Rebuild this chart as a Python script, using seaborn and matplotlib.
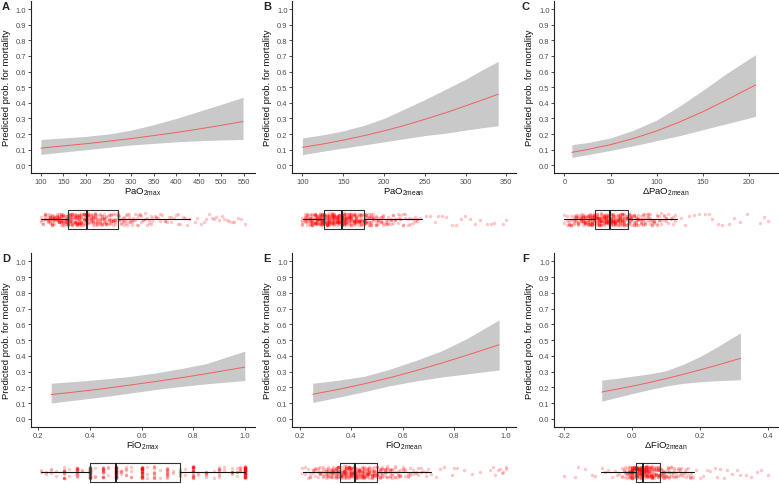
import numpy as np
import matplotlib
matplotlib.use("Agg")
import matplotlib.pyplot as plt
import seaborn as sns

# fitted curves: x, predicted prob., lower / upper 95% band
pao2max_x = [100, 150, 200, 250, 300, 350, 400, 450, 500, 548]
pao2max_fit = [0.110, 0.124, 0.138, 0.154, 0.171, 0.190, 0.210, 0.232, 0.256, 0.280]
pao2max_lo = [0.070, 0.085, 0.100, 0.115, 0.130, 0.140, 0.150, 0.157, 0.162, 0.165]
pao2max_hi = [0.165, 0.175, 0.185, 0.200, 0.225, 0.260, 0.300, 0.345, 0.390, 0.435]

pao2mean_x = [100, 125, 150, 175, 200, 225, 250, 275, 300, 320, 340]
pao2mean_fit = [0.115, 0.136, 0.161, 0.189, 0.220, 0.255, 0.294, 0.335, 0.380, 0.417, 0.455]
pao2mean_lo = [0.068, 0.090, 0.110, 0.130, 0.150, 0.170, 0.190, 0.205, 0.225, 0.240, 0.253]
pao2mean_hi = [0.175, 0.195, 0.220, 0.255, 0.300, 0.360, 0.420, 0.485, 0.550, 0.610, 0.665]

dpao2_x = [8, 25, 50, 75, 100, 125, 150, 175, 207]
dpao2_fit = [0.083, 0.101, 0.132, 0.172, 0.220, 0.278, 0.343, 0.416, 0.514]
dpao2_lo = [0.051, 0.068, 0.095, 0.125, 0.158, 0.190, 0.228, 0.265, 0.313]
dpao2_hi = [0.132, 0.145, 0.175, 0.225, 0.290, 0.380, 0.480, 0.585, 0.708]

fio2max_x = [0.25, 0.35, 0.45, 0.55, 0.65, 0.75, 0.85, 1.0]
fio2max_fit = [0.154, 0.172, 0.191, 0.213, 0.236, 0.260, 0.286, 0.328]
fio2max_lo = [0.101, 0.120, 0.140, 0.162, 0.185, 0.205, 0.222, 0.243]
fio2max_hi = [0.226, 0.238, 0.252, 0.268, 0.290, 0.318, 0.350, 0.430]

fio2mean_x = [0.25, 0.35, 0.45, 0.55, 0.65, 0.75, 0.85, 0.975]
fio2mean_fit = [0.156, 0.187, 0.222, 0.261, 0.305, 0.353, 0.404, 0.470]
fio2mean_lo = [0.104, 0.137, 0.172, 0.210, 0.240, 0.265, 0.285, 0.310]
fio2mean_hi = [0.226, 0.245, 0.270, 0.315, 0.370, 0.430, 0.510, 0.628]

dfio2_x = [-0.09, 0.0, 0.05, 0.1, 0.15, 0.2, 0.25, 0.32]
dfio2_fit = [0.170, 0.207, 0.230, 0.255, 0.282, 0.310, 0.340, 0.384]
dfio2_lo = [0.112, 0.160, 0.185, 0.208, 0.225, 0.235, 0.242, 0.248]
dfio2_hi = [0.245, 0.270, 0.285, 0.305, 0.345, 0.395, 0.455, 0.546]

# observed values (value, number of patients) plus single outlying points
pao2max_vals = [100, 105, 110, 115, 120, 125, 130, 135, 140, 145, 150, 155, 160, 165, 170, 175, 180, 185,
                190, 195, 200, 205, 210, 215, 220, 225, 230, 235, 240, 245, 250, 255, 260, 265, 270,
                274, 277, 281, 284, 288, 291, 295, 298, 302, 305, 309, 312, 316, 319, 323, 327, 331, 335,
                339, 343, 347, 352, 356, 360, 365, 369, 374, 379, 384, 389, 394, 399, 404, 409, 414, 419,
                424, 429]
pao2max_n = [3, 3, 6, 6, 9, 9, 10, 10, 11, 11, 12, 12, 12, 12, 13, 13, 13, 13,
             12, 12, 11, 11, 9, 9, 8, 8, 8, 7, 7, 7, 7, 6, 6, 6, 5,
             3, 3, 3, 3, 3, 2, 3, 2, 3, 2, 2, 2, 2, 2, 2, 2, 2, 2,
             2, 2, 2, 1, 2, 1, 2, 1, 2, 1, 1, 2, 1, 1, 2, 1, 1, 1,
             1, 1]
pao2max_tail = [441, 447, 456, 461, 467, 472, 479, 484, 489, 495, 501, 506, 512, 518, 523, 529, 536, 544, 552]

pao2mean_vals = [100, 103, 106, 109, 112, 115, 118, 121, 124, 127, 130, 133, 136, 139, 142, 145, 148, 151,
                 154, 157, 160, 163, 166, 169, 172, 175, 178, 181, 184, 187, 190, 193, 196, 199, 202, 205,
                 208, 211, 214, 217, 220, 223, 226, 229, 232, 235, 238, 241, 244]
pao2mean_n = [5, 7, 9, 11, 13, 14, 16, 17, 18, 18, 18, 18, 18, 18, 18, 17, 17, 17,
              16, 15, 14, 14, 13, 12, 11, 11, 10, 8, 7, 6, 6, 5, 5, 5, 4, 4,
              4, 3, 3, 3, 3, 3, 2, 2, 2, 2, 2, 2, 1]
pao2mean_tail = [251, 256, 262, 266, 271, 276, 283, 288, 294, 299, 306, 312, 318, 326, 331, 335, 346, 349]

dpao2_vals = [0, 2.5, 5, 7.5, 10, 12.5, 15, 17.5, 20, 22.5, 25, 27.5, 30, 32.5, 35, 37.5, 40, 42.5, 45,
              47.5, 50, 52.5, 55, 57.5, 60, 62.5, 65, 67.5, 70, 72.5, 75, 77.5, 80, 82.5, 85, 87.5, 90,
              92.5, 95, 97.5, 100, 102.5, 105, 107.5, 110, 112.5, 115, 117.5, 120]
dpao2_n = [2, 3, 4, 5, 6, 7, 8, 9, 10, 11, 12, 12, 13, 13, 14, 14, 15, 15, 15,
           15, 15, 14, 14, 13, 13, 12, 12, 11, 10, 9, 8, 7, 7, 6, 6, 5, 5,
           4, 4, 4, 4, 3, 3, 3, 3, 2, 2, 2, 2]
dpao2_tail = [126, 131, 135, 140, 146, 152, 157, 160, 166, 171, 178, 184, 190, 198, 212, 216, 220]

fio2max_vals = [0.21, 0.23, 0.25, 0.27, 0.3, 0.32, 0.35, 0.37, 0.4, 0.42, 0.45, 0.47, 0.5, 0.52, 0.54, 0.56, 0.6,
                0.62, 0.65, 0.67, 0.7, 0.72, 0.75, 0.77, 0.8, 0.82, 0.85, 0.88, 0.9, 0.92, 0.95, 0.97, 0.98, 1.0]
fio2max_n = [2, 2, 3, 2, 12, 2, 14, 2, 40, 3, 15, 3, 45, 4, 5, 4, 35,
             3, 10, 2, 12, 2, 6, 2, 22, 2, 6, 2, 8, 2, 6, 4, 5, 45]
fio2max_tail = []

fio2mean_vals = [0.21, 0.22, 0.23, 0.24, 0.25, 0.26, 0.27, 0.28, 0.29, 0.30, 0.31, 0.32, 0.33, 0.34, 0.35,
                 0.36, 0.37, 0.38, 0.39, 0.40, 0.41, 0.42, 0.43, 0.44, 0.45, 0.46, 0.47, 0.48, 0.49, 0.50,
                 0.51, 0.52, 0.53, 0.54, 0.55, 0.56, 0.57, 0.58, 0.59, 0.60, 0.61, 0.62, 0.63, 0.64, 0.65,
                 0.66, 0.67, 0.68, 0.69, 0.70, 0.71]
fio2mean_n = [2, 2, 2, 3, 3, 4, 4, 5, 6, 7, 8, 9, 10, 12, 13,
              14, 15, 16, 16, 17, 17, 16, 15, 14, 13, 12, 11, 10, 10, 9,
              8, 7, 7, 6, 6, 5, 5, 4, 4, 3, 3, 3, 3, 2, 2,
              2, 2, 1, 2, 1, 1]
fio2mean_tail = [0.73, 0.745, 0.76, 0.79, 0.8, 0.81, 0.84, 0.87, 0.9, 0.94, 0.95, 0.96, 0.97, 0.98, 0.985, 0.99, 1.0, 1.0]

dfio2_vals = [-0.03, -0.025, -0.02, -0.015, -0.01, -0.005, 0.0, 0.005, 0.01, 0.015, 0.02, 0.025, 0.03, 0.035,
              0.04, 0.045, 0.05, 0.055, 0.06, 0.065, 0.07, 0.075, 0.08, 0.085, 0.09, 0.095, 0.1, 0.105,
              0.11, 0.115, 0.12, 0.125, 0.13, 0.135, 0.14, 0.145, 0.15, 0.155, 0.16, 0.165, 0.17, 0.175, 0.18]
dfio2_n = [3, 2, 4, 5, 7, 8, 30, 12, 15, 16, 17, 17, 16, 15,
           14, 13, 12, 11, 10, 9, 8, 8, 7, 6, 6, 5, 5, 4,
           4, 4, 3, 3, 3, 3, 3, 2, 2, 2, 2, 2, 2, 2, 1]
dfio2_tail = [-0.2, -0.17, -0.16, -0.14, -0.12, -0.11, -0.09, -0.08, -0.07, -0.06, -0.05, -0.045, -0.04,
              0.19, 0.2, 0.21, 0.22, 0.23, 0.245, 0.25, 0.26, 0.27, 0.28, 0.295, 0.31, 0.32, 0.335, 0.35,
              0.37, 0.38, 0.4]

# box stats: whisker low, q1, median, q3, whisker high
pao2max_box = [101, 161, 202, 271, 430]
pao2mean_box = [101, 126, 148, 176, 247]
dpao2_box = [0, 33, 49, 69, 121.5]
fio2max_box = [0.21, 0.40, 0.50, 0.75, 1.0]
fio2mean_box = [0.212, 0.357, 0.416, 0.50, 0.709]
dfio2_box = [-0.091, 0.010, 0.033, 0.081, 0.182]

letters = ["A", "B", "C", "D", "E", "F"]
xlabels = ["PaO$_{\\mathregular{2max}}$", "PaO$_{\\mathregular{2mean}}$", "\u0394PaO$_{\\mathregular{2mean}}$",
           "FiO$_{\\mathregular{2max}}$", "FiO$_{\\mathregular{2mean}}$", "\u0394FiO$_{\\mathregular{2mean}}$"]
xticks = [[100, 150, 200, 250, 300, 350, 400, 450, 500, 550],
          [100, 150, 200, 250, 300, 350],
          [0, 50, 100, 150, 200],
          [0.2, 0.4, 0.6, 0.8, 1.0],
          [0.2, 0.4, 0.6, 0.8, 1.0],
          [-0.2, 0.0, 0.2, 0.4]]
xticklabels = [["100", "150", "200", "250", "300", "350", "400", "450", "500", "550"],
               ["100", "150", "200", "250", "300", "350"],
               ["0", "50", "100", "150", "200"],
               ["0.2", "0.4", "0.6", "0.8", "1.0"],
               ["0.2", "0.4", "0.6", "0.8", "1.0"],
               ["-0.2", "0.0", "0.2", "0.4"]]
yticks = [0.0, 0.1, 0.2, 0.3, 0.4, 0.5, 0.6, 0.7, 0.8, 0.9, 1.0]
yticklabels = ["0.0", "0.1", "0.2", "0.3", "0.4", "0.5", "0.6", "0.7", "0.8", "0.9", "1.0"]
ylabel = "Predicted prob. for mortality"

panels = [
    dict(x=pao2max_x, fit=pao2max_fit, lo=pao2max_lo, hi=pao2max_hi,
         vals=pao2max_vals, n=pao2max_n, tail=pao2max_tail, box=pao2max_box),
    dict(x=pao2mean_x, fit=pao2mean_fit, lo=pao2mean_lo, hi=pao2mean_hi,
         vals=pao2mean_vals, n=pao2mean_n, tail=pao2mean_tail, box=pao2mean_box),
    dict(x=dpao2_x, fit=dpao2_fit, lo=dpao2_lo, hi=dpao2_hi,
         vals=dpao2_vals, n=dpao2_n, tail=dpao2_tail, box=dpao2_box),
    dict(x=fio2max_x, fit=fio2max_fit, lo=fio2max_lo, hi=fio2max_hi,
         vals=fio2max_vals, n=fio2max_n, tail=fio2max_tail, box=fio2max_box),
    dict(x=fio2mean_x, fit=fio2mean_fit, lo=fio2mean_lo, hi=fio2mean_hi,
         vals=fio2mean_vals, n=fio2mean_n, tail=fio2mean_tail, box=fio2mean_box),
    dict(x=dfio2_x, fit=dfio2_fit, lo=dfio2_lo, hi=dfio2_hi,
         vals=dfio2_vals, n=dfio2_n, tail=dfio2_tail, box=dfio2_box),
]

sns.set_theme(style="ticks")
plt.rcParams["font.family"] = ["Liberation Sans", "DejaVu Sans"]
plt.rcParams["mathtext.fontset"] = "custom"
plt.rcParams["mathtext.rm"] = "Liberation Sans"
plt.rcParams["axes.unicode_minus"] = False

np.random.seed(3)  # only for the vertical jitter of the strip points

W, H = 779, 485
fig = plt.figure(figsize=(W / 100, H / 100), dpi=100)


def px_axes(left, top, right, bottom):
    return fig.add_axes([left / W, 1 - bottom / H, (right - left) / W, (bottom - top) / H])


col_edges = [(30.7, 255.0), (292.3, 515.7), (554.3, 777.7)]
row_edges = [(2.2, 174.1), (254.4, 427.7)]
box_centres = [220.4, 473.3]
letter_x = [2, 263, 522]

for i, p in enumerate(panels):
    r, c = divmod(i, 3)
    left, right = col_edges[c]
    top, bottom = row_edges[r]
    w_px, h_px = right - left, bottom - top

    obs = list(np.repeat(p["vals"], p["n"])) + p["tail"]
    lo_x = min(min(obs), min(p["x"]))
    hi_x = max(max(obs), max(p["x"]))
    pad = 0.05 * (hi_x - lo_x)
    xlim = (lo_x - pad, hi_x + pad)

    ax = px_axes(left, top, right, bottom)
    ax.fill_between(p["x"], p["lo"], p["hi"], color="#C9C9C9", lw=0)
    sns.lineplot(x=p["x"], y=p["fit"], ax=ax, color="#F0605A", lw=0.7)
    ax.set_xlim(xlim)
    ax.set_ylim(-0.05, 1.05)
    ax.set_xticks(xticks[i])
    ax.set_xticklabels(xticklabels[i])
    ax.set_yticks(yticks)
    ax.set_yticklabels(yticklabels)
    sns.despine(ax=ax)
    for s in ("left", "bottom"):
        ax.spines[s].set_linewidth(0.8)
        ax.spines[s].set_color("#222222")
    ax.tick_params(axis="both", length=2.2, width=0.6, color="#333333",
                   labelsize=5.4, labelcolor="#4D4D4D")
    ax.tick_params(axis="y", pad=1.2)
    ax.tick_params(axis="x", pad=1.6)
    ax.set_xlabel(xlabels[i], fontsize=6.8, color="#111111")
    ax.set_ylabel(ylabel, fontsize=6.8, color="#111111")
    ax.xaxis.label.set_va("center")
    ax.xaxis.set_label_coords(0.5, -18.5 / h_px)
    ax.yaxis.label.set_va("center")
    ax.yaxis.set_label_coords(-24.3 / w_px, 0.5)

    fig.text(letter_x[c] / W, 1 - (top + 4.8) / H, letters[i], fontsize=8,
             fontweight="bold", va="center", ha="left")

    # boxplot strip underneath, sharing the x scale
    cy = box_centres[r]
    bax = px_axes(left, cy - 12, right, cy + 12)
    sns.stripplot(x=obs, ax=bax, color="red", alpha=0.22, size=2.5,
                  jitter=0.25, linewidth=0, zorder=1)
    wl, q1, med, q3, wh = p["box"]
    bax.bxp([dict(whislo=wl, q1=q1, med=med, q3=q3, whishi=wh)], positions=[0],
            widths=0.81, orientation="horizontal", showfliers=False, showcaps=False,
            boxprops=dict(color="#333333", lw=0.8),
            whiskerprops=dict(color="#111111", lw=0.8),
            medianprops=dict(color="#111111", lw=1.3), manage_ticks=False)
    bax.set_xlim(xlim)
    bax.set_ylim(0.5, -0.5)
    bax.axis("off")

fig.savefig("out.png", dpi=100)
